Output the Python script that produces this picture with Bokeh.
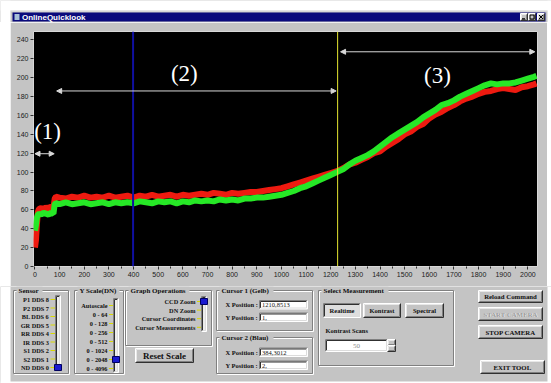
from bokeh.plotting import figure
from bokeh.layouts import row, Spacer
from bokeh.models import Range1d, FixedTicker, Arrow, NormalHead, Span, ColumnDataSource
from bokeh.embed import file_html
from bokeh.resources import INLINE
from bokeh.core.properties import value

# ---------------- data ----------------
x_vals = [0, 4, 8, 12, 16, 25, 35, 45, 55, 65, 75, 80, 85,
          100, 125, 150, 175, 200, 225, 250, 275, 300, 325, 350, 375, 400,
          425, 450, 475, 500, 525, 550, 575, 600, 625, 650,
          675, 700, 725, 750, 775, 800, 825, 850, 875, 900, 925, 950, 975, 1000,
          1025, 1050, 1075, 1100, 1125, 1150, 1175, 1200, 1225,
          1250, 1275, 1300, 1325, 1350, 1375, 1400, 1425, 1450, 1475, 1500,
          1525, 1550, 1575, 1600, 1625, 1650, 1675, 1700, 1725, 1750,
          1775, 1800, 1825, 1850, 1875, 1900, 1925, 1950, 1975, 2000, 2025, 2035]
green_vals = [38, 44, 52, 55, 56, 55, 57, 56, 55, 57, 56, 66, 67,
              66, 68, 66, 67, 68, 66, 67, 68, 66, 68, 67, 68, 67,
              69, 68, 67, 69, 68, 69, 67, 69, 68, 70,
              69, 70, 69, 71, 70, 71, 70, 72, 72, 73, 73, 74, 75, 76,
              78, 80, 83, 85, 88, 91, 94, 97, 100,
              103, 108, 112, 115, 118, 122, 127, 132, 137, 141, 145,
              149, 153, 158, 162, 166, 171, 173, 176, 180, 183,
              186, 189, 192, 194, 193, 194, 194, 195, 197, 199, 201, 202]
red_vals = [20, 28, 45, 58, 61, 62, 60, 63, 61, 64, 62, 72, 74,
            73, 72, 74, 73, 75, 73, 74, 73, 75, 73, 74, 75, 73,
            75, 74, 76, 74, 75, 76, 74, 76, 75, 76,
            77, 76, 78, 77, 76, 78, 77, 78, 79, 79, 80, 81, 82, 83,
            85, 87, 89, 91, 93, 95, 97, 99, 101,
            104, 108, 110, 113, 116, 120, 122, 127, 131, 135, 140,
            143, 148, 151, 157, 161, 164, 168, 171, 175, 178,
            180, 183, 185, 186, 188, 189, 188, 187, 190, 191, 193, 194]

x_ticks = [0, 100, 200, 300, 400, 500, 600, 700, 800, 900, 1000,
           1100, 1200, 1300, 1400, 1500, 1600, 1700, 1800, 1900, 2000]
y_ticks = [0, 20, 40, 60, 80, 100, 120, 140, 160, 180, 200, 220, 240]

cursor_blue_x = 398
cursor_yellow_x = 1228

region_labels = ["(1)", "(2)", "(3)"]
region_start = [0, 88, 1240]
region_end = [78, 1222, 2028]
region_arrow_y = [119.5, 186, 227.5]
region_label_x = [51, 606, 1633]
region_label_y = [143, 205, 202]

sensor_labels = ["P1 DDS 8", "P2 DDS 7", "BL DDS 6", "GR DDS 5", "RR DDS 4",
                 "IR DDS 3", "S1 DDS 2", "S2 DDS 1", "ND DDS 0"]
yscale_labels = ["Autoscale", "0 - 64", "0 - 128", "0 - 256", "0 - 512",
                 "0 - 1024", "0 - 2048", "0 - 4096"]
graphop_labels = ["CCD Zoom", "DN Zoom", "Cursor Coordinates", "Cursor Measurements"]
cursor1_values = ["1210,8513", "1,"]
cursor2_values = ["384,3012", "2,"]
kontrast_value = "50"

# ---------------- styles ----------------
GRAY = "#c4c4c4"
SERIF = value("Liberation Serif")
SANS = value("Liberation Sans")
PW = 551                 # page width
X0, X1 = 10, 547         # window span on the page


def ui_fig(h, y_top):
    f = figure(width=PW, height=h, x_range=Range1d(0, PW), y_range=Range1d(y_top + h, y_top),
               output_backend="svg", toolbar_location=None, min_border=0,
               min_border_left=0, min_border_right=0, min_border_top=0, min_border_bottom=0,
               x_axis_location=None, y_axis_location=None,
               background_fill_color=GRAY, border_fill_color=GRAY, outline_line_color=None)
    f.grid.visible = False
    f.quad(left=0, right=X0, top=y_top, bottom=y_top + h, fill_color="white", line_color=None)
    f.quad(left=X1, right=PW, top=y_top, bottom=y_top + h, fill_color="white", line_color=None)
    return f


def edges(f, x0, x1, y0, y1, tl, br):
    f.segment(x0=[x0, x0], y0=[y0, y0], x1=[x1, x0], y1=[y0, y1], line_color=tl, line_width=1)
    f.segment(x0=[x0, x1], y0=[y1, y0], x1=[x1, x1], y1=[y1, y1], line_color=br, line_width=1)


def raised(f, x0, x1, y0, y1, fill=GRAY):
    f.quad(left=x0, right=x1, top=y0, bottom=y1, fill_color=fill, line_color=None)
    edges(f, x0 + 1, x1 - 1, y0 + 1, y1 - 1, "#e8e8e8", "#808080")
    edges(f, x0, x1, y0, y1, "white", "#303030")


def sunken(f, x0, x1, y0, y1, fill="white"):
    f.quad(left=x0, right=x1, top=y0, bottom=y1, fill_color=fill, line_color=None)
    edges(f, x0, x1, y0, y1, "#808080", "white")
    edges(f, x0 + 1, x1 - 1, y0 + 1, y1 - 1, "#303030", "#dcdcdc")


def group(f, x0, x1, y0, y1, label, lw):
    f.quad(left=x0 + 1, right=x1 + 1, top=y0 + 1, bottom=y1 + 1, fill_color=None,
           line_color="white", line_width=1)
    f.quad(left=x0, right=x1, top=y0, bottom=y1, fill_color=None,
           line_color="#808080", line_width=1)
    f.quad(left=x0 + 3, right=x0 + 7 + lw, top=y0 - 4, bottom=y0 + 4, fill_color=GRAY, line_color=None)
    f.text(x=[x0 + 5], y=[y0], text=[label], text_font=SERIF, text_font_style="bold",
           text_font_size="7px", text_baseline="middle", text_color="#101010")


def txt(f, xs, ys, labels, size="6.5px", align="left", color="#101010", bold=True, font=SERIF):
    f.text(x=xs, y=ys, text=labels, text_font=font, text_font_style="bold" if bold else "normal",
           text_font_size=size, text_baseline="middle", text_align=align, text_color=color)


def slider(f, labels, y0, dy, text_right, tx0, tx1, ty0, ty1, sel):
    ys = [y0 + dy * i for i in range(len(labels))]
    txt(f, [text_right] * len(labels), ys, labels, size="6.3px", align="right")
    f.segment(x0=[text_right + 1.5] * len(ys), y0=ys, x1=[tx0 - 0.5] * len(ys), y1=ys,
              line_color="#d8d800", line_width=1)
    sunken(f, tx0, tx1, ty0, ty1, fill="#ececec")
    ys_sel = ys[sel]
    f.quad(left=tx0 - 1, right=tx1 + 1, top=ys_sel - 3, bottom=ys_sel + 3,
           fill_color="#1a1ad0", line_color="#000060")


# ---------------- title bar ----------------
top = ui_fig(22, 0)
top.quad(left=0, right=PW, top=0, bottom=10, fill_color="white", line_color=None)
top.segment(x0=[X0], y0=[10.5], x1=[X1], y1=[10.5], line_color="#e8e8e8")
top.quad(left=12, right=545, top=12, bottom=21, fill_color="#0a0a7c", line_color=None)
top.quad(left=14, right=19, top=13.5, bottom=19.5, fill_color="#a8c0d8", line_color=None)
txt(top, [21.5], [16.8], ["OnlineQuicklook"], size="8px", color="white", font=SANS)
for bx in (520, 528, 537):
    raised(top, bx, bx + 7, 13, 20)
top.segment(x0=[521.5], y0=[18.3], x1=[524.5], y1=[18.3], line_color="black", line_width=1.2)
top.quad(left=529.5, right=533.5, top=14.5, bottom=18.5, fill_color=None, line_color="black")
top.segment(x0=[538.5, 538.5], y0=[14.5, 18.5], x1=[542.5, 542.5], y1=[18.5, 14.5],
            line_color="black", line_width=1)

# ---------------- chart ----------------
p = figure(width=X1 - X0, height=264, x_range=Range1d(-6, 2039), y_range=Range1d(0, 249),
           output_backend="svg", toolbar_location=None,
           min_border_left=23, min_border_right=10, min_border_top=9, min_border_bottom=20,
           background_fill_color="black", border_fill_color=GRAY,
           outline_line_color="#d8d8d8")
p.grid.visible = False
p.yaxis.ticker = FixedTicker(ticks=y_ticks)
p.xaxis.ticker = FixedTicker(ticks=x_ticks, minor_ticks=[t + 50 for t in x_ticks[:-1]])
for ax in (p.xaxis[0], p.yaxis[0]):
    ax.axis_line_color = None
    ax.major_tick_line_color = "#303030"
    ax.major_tick_in = 0
    ax.major_tick_out = 3
    ax.minor_tick_line_color = "#303030"
    ax.minor_tick_in = 0
    ax.minor_tick_out = 2
    ax.major_label_text_font = "Liberation Sans"
    ax.major_label_text_font_size = "7px"
    ax.major_label_text_color = "#202020"
    ax.major_label_standoff = 2
p.yaxis.minor_tick_line_color = None

p.line(x_vals, red_vals, line_color="#ee1a10", line_width=6)
p.line(x_vals, green_vals, line_color="#26e826", line_width=6)

p.add_layout(Span(location=cursor_blue_x, dimension="height", line_color="#1010a0", line_width=2))
p.add_layout(Span(location=cursor_yellow_x, dimension="height", line_color="#e6e630", line_width=1))

arrow_src = ColumnDataSource(dict(xs=region_start, xe=region_end, y=region_arrow_y))
p.add_layout(Arrow(start=NormalHead(size=5, fill_color="#d8d8d8", line_color="#d8d8d8"),
                   end=NormalHead(size=5, fill_color="#d8d8d8", line_color="#d8d8d8"),
                   x_start="xs", y_start="y", x_end="xe", y_end="y", source=arrow_src,
                   line_color="#d8d8d8", line_width=1))
p.text(x=region_label_x, y=region_label_y, text=region_labels, text_font=SERIF,
       text_font_size="23px", text_color="white", text_align="center", text_baseline="middle")

chart_row = row(Spacer(width=X0, height=264), p, Spacer(width=PW - X1, height=264), spacing=0)

# ---------------- control panel ----------------
c = ui_fig(97, 286)
c.quad(left=0, right=PW, top=381, bottom=383, fill_color="white", line_color=None)

group(c, 13, 68, 290, 373, "Sensor", 22)
slider(c, sensor_labels, 299, 8.5, 48.5, 55, 60, 295, 370, 8)

group(c, 74, 123, 290, 373, "Y Scale(DN)", 38)
slider(c, yscale_labels, 305, 9, 107, 113, 118, 298, 372, 6)

group(c, 125, 211, 290, 345, "Graph Operations", 57)
slider(c, graphop_labels, 301, 8.6, 195, 201, 206, 296, 331, 0)

raised(c, 135, 193, 348, 362)
txt(c, [164], [355], ["Reset Scale"], size="9px", align="center")

group(c, 216, 312, 290, 330, "Cursor 1 (Gelb)", 50)
txt(c, [225, 225], [304, 317], ["X Position :", "Y Position :"])
sunken(c, 259, 307, 300, 308.5)
sunken(c, 259, 307, 312.5, 321)
txt(c, [261.5, 261.5], [304.5, 317], cursor1_values, size="6.5px", bold=False)

group(c, 216, 312, 337, 373, "Cursor 2 (Blau)", 50)
txt(c, [225, 225], [352, 365], ["X Position :", "Y Position :"])
sunken(c, 259, 307, 347.5, 356)
sunken(c, 259, 307, 360.5, 369)
txt(c, [261.5, 261.5], [352, 365], cursor2_values, size="6.5px", bold=False)

group(c, 318, 453, 290, 365, "Select Measurement", 63)
sunken(c, 323, 360, 303, 317, fill="#dedede")
raised(c, 363, 400, 303, 317)
raised(c, 405, 443, 303, 317)
txt(c, [341.5, 381.5, 424], [310, 310, 310], ["Realtime", "Kontrast", "Spectral"],
    size="6.5px", align="center")
txt(c, [325], [330], ["Kontrast Scans"], size="6.5px")
sunken(c, 325, 387, 339, 351)
txt(c, [356], [345], [kontrast_value], size="7px", align="center", color="#8a8a8a", bold=False)
raised(c, 387, 395, 339, 345)
raised(c, 387, 395, 345, 351)

raised(c, 478, 542, 290, 302)
txt(c, [510], [296], ["Reload Command"], size="6.8px", align="center")
raised(c, 478, 542, 307, 320)
txt(c, [510.5], [314], ["START CAMERA"], size="6.8px", align="center", color="white")
txt(c, [510], [313.5], ["START CAMERA"], size="6.8px", align="center", color="#9a9a9a")
raised(c, 478, 542, 325, 338)
txt(c, [510], [331.5], ["STOP CAMERA"], size="6.8px", align="center")
raised(c, 480, 544, 360, 373)
txt(c, [512], [366.5], ["EXIT TOOL"], size="6.8px", align="center")

open("out.html", "w").write(file_html([top, chart_row, c], INLINE))
